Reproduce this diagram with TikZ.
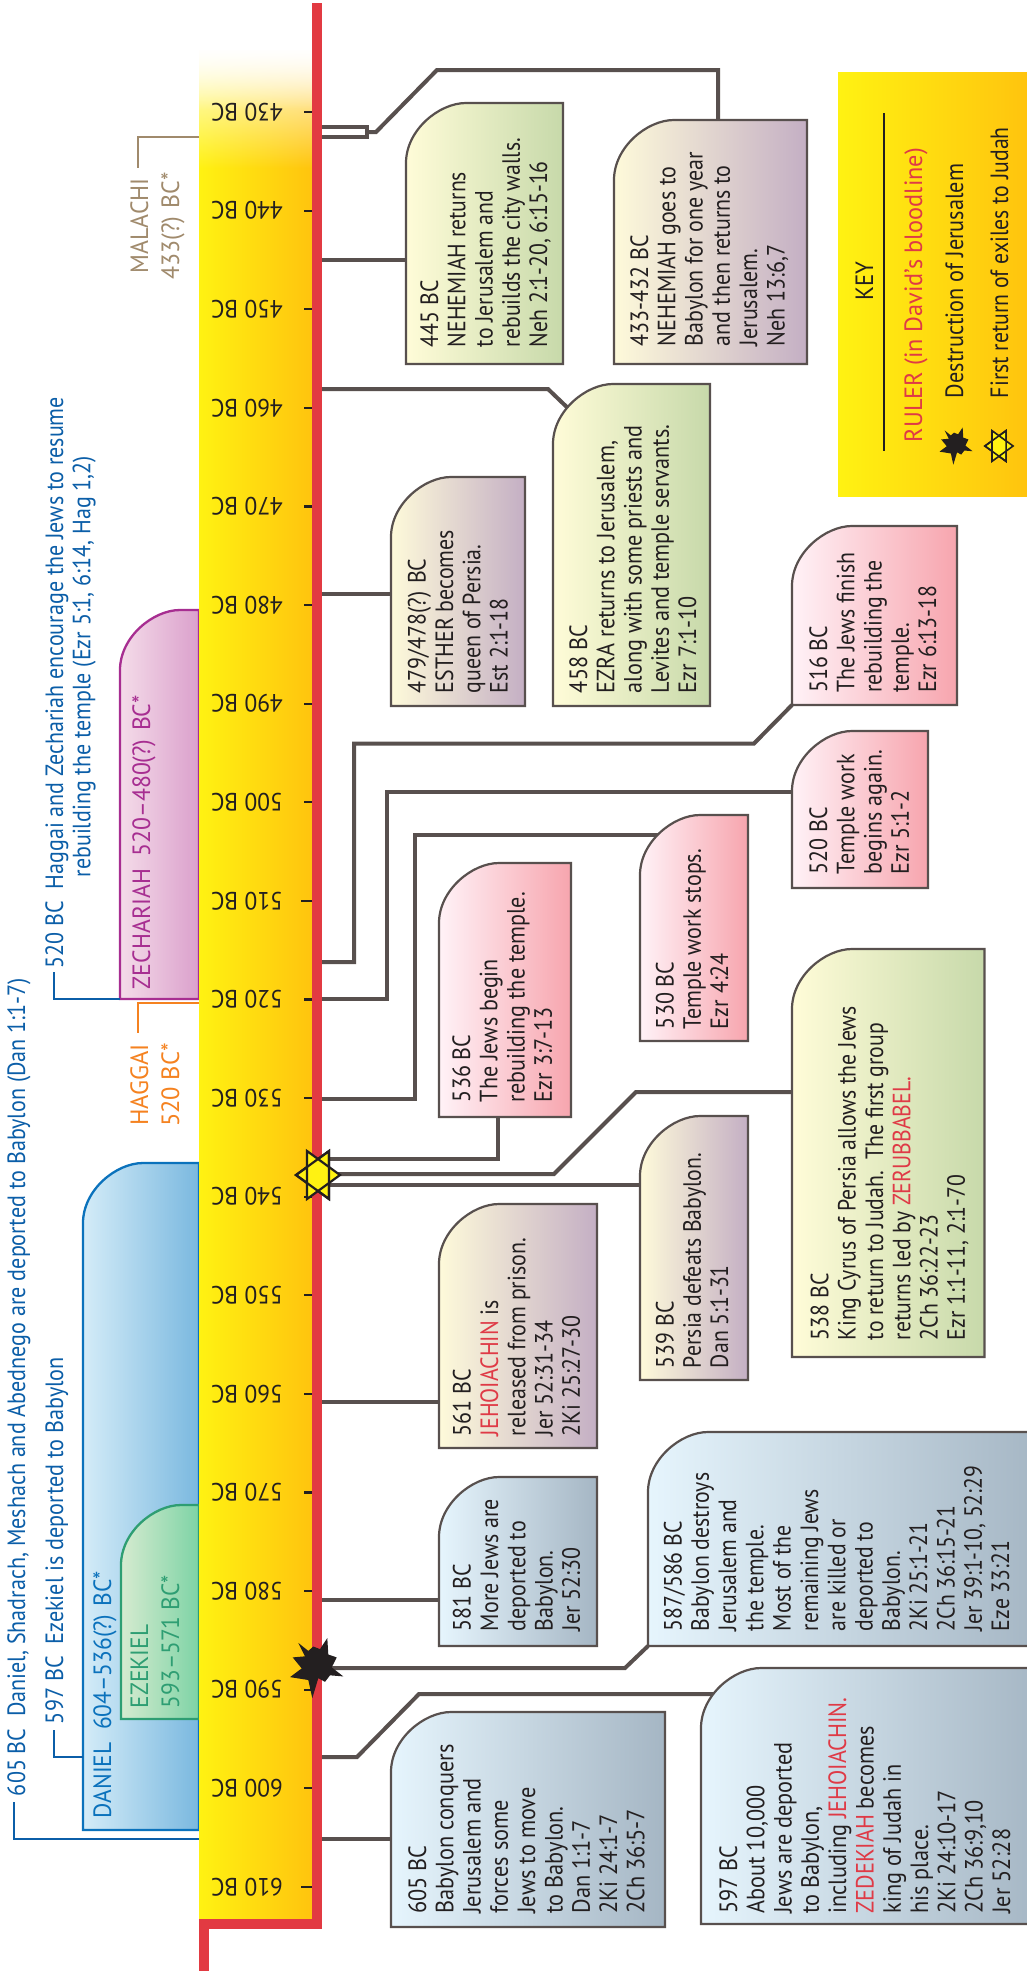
\documentclass[tikz,border=0pt]{standalone}
\usepackage{fontspec}
\setmainfont{PT Sans}
\usetikzlibrary{fadings}
\definecolor{conncol}{HTML}{58504E}
\definecolor{inkcol}{HTML}{231F20}
\definecolor{redline}{HTML}{E23A42}
\definecolor{redname}{HTML}{DF3A46}
\definecolor{yelA}{HTML}{FFF212}
\definecolor{yelB}{HTML}{FFDC05}
\definecolor{yelC}{HTML}{FFC40E}
\definecolor{bluA}{HTML}{E6F5FD}
\definecolor{bluB}{HTML}{A5B6C4}
\definecolor{tanA}{HTML}{FEFADA}
\definecolor{tanB}{HTML}{C4AFC4}
\definecolor{pnkA}{HTML}{FFF2F7}
\definecolor{pnkB}{HTML}{F7A5AE}
\definecolor{grnA}{HTML}{FFFCD8}
\definecolor{grnB}{HTML}{C7D9AA}
\definecolor{sideblue}{HTML}{0B5EA8}
\definecolor{danblue}{HTML}{0B72BC}
\definecolor{danA}{HTML}{D4ECF8}
\definecolor{danB}{HTML}{7AB8DF}
\definecolor{ezegreen}{HTML}{2E9E73}
\definecolor{ezeA}{HTML}{D6EBD0}
\definecolor{ezeB}{HTML}{7DD3A5}
\definecolor{zecpurp}{HTML}{A72E91}
\definecolor{zecA}{HTML}{F4DCE9}
\definecolor{zecB}{HTML}{DBA0CC}
\definecolor{hagorg}{HTML}{F58220}
\definecolor{maltan}{HTML}{A08A6C}
\tikzfading[name=bandfade,top color=transparent!0,bottom color=transparent!100]
\tikzset{
  conn/.style={draw=conncol,line width=4pt,miter limit=10},
  boxline/.style={draw=conncol,line width=2.2pt},
  boxnode/.style={inner sep=0pt,outer sep=0pt,anchor=north west},
  vt/.style={rotate=90,anchor=north west,inner sep=0pt,outer sep=0pt,align=left,text=inkcol,
    font=\fontsize{25}{27.3}\selectfont},
  vtc/.style={vt,anchor=north,align=center,font=\fontsize{25}{31}\selectfont},
  yr/.style={rotate=180,inner sep=0pt,text=inkcol,xscale=0.94,font=\fontsize{25}{27}\selectfont},
  tick/.style={draw=inkcol,line width=2.2pt},
  thin side/.style={line width=2pt}
}
\newcommand\rd[1]{\textcolor{redname}{#1}}
\newcommand\tlbox[7]{%
  \node[boxnode,minimum width={(#4-(#2))*1pt},minimum height={(#5-(#3))*1pt}] (#1) at (#2,#3) {};
  \shade[boxline,left color=#6,right color=#7]
    (#2,#5) -- (#2,#3+60) .. controls (#2,#3+27) and (#2+33,#3) .. (#2+60,#3) -- (#4,#3) -- (#4,#5) -- cycle;
}
\newcommand\vtxt[5][]{\node[vt,#1] (#2) at (#3-20,#4) {\rule{0pt}{20pt}#5};}
\newcommand\vctr[5][]{\node[vtc,#1] (#2) at (#3-20,#4) {\rule{0pt}{20pt}#5};}
\newcommand\yearlab[2]{%
  \node[yr] (y#1) at (247,#2) {#1 BC};
}
\newcommand\burstat[3]{%
  \fill[inkcol,shift={(#1,#2)},scale=#3]
   (-16.7,-25.1) -- (-6.7,-17.1) -- (-1.7,-21.5) -- (5,-18.9) -- (12.3,-29.9) -- (13.3,-13.5)
   -- (21.7,-10.6) -- (16.7,-0.7) -- (28.3,8.4) -- (15,7.3) -- (10,13.8) -- (3.3,10.2)
   -- (-2.7,30.2) -- (-6.7,12) -- (-25,9.1) -- (-13.3,0.4) -- (-22.3,-10.6) -- (-10,-11.7) -- cycle;
}
\newcommand\hexaat[4]{%
  \begin{scope}[shift={(#1,#2)},scale=#3]
  \filldraw[fill=yelA,draw=inkcol,line width=#4,line join=miter] (-22,0) -- (11,-24) -- (11,24) -- cycle;
  \filldraw[fill=yelA,draw=inkcol,line width=#4,line join=miter] (22,0) -- (-11,-24) -- (-11,24) -- cycle;
  \draw[draw=inkcol,line width=#4] (-22,0) -- (11,-24) -- (11,24) -- cycle;
  \end{scope}
}
\begin{document}
\begin{tikzpicture}[x=1pt,y=-1pt]
\useasboundingbox (0,0) rectangle (1027,1971);
\clip (0,0) rectangle (1027,1971);
\fill[white] (0,0) rectangle (1027,1971);

% prophet spans behind the band
\shade[draw=danblue,line width=2.3pt,left color=danA,right color=danB]
  (199,1830) -- (83,1830) -- (83,1223) .. controls (83,1190) and (116,1163) .. (143,1163) -- (199,1163) -- cycle;
\shade[draw=ezegreen,line width=2.3pt,left color=ezeA,right color=ezeB]
  (199,1719) -- (121,1719) -- (121,1565) .. controls (121,1532) and (154,1505) .. (181,1505) -- (199,1505) -- cycle;
\shade[draw=zecpurp,line width=2.3pt,left color=zecA,right color=zecB]
  (199,999) -- (120,999) -- (120,670) .. controls (120,637) and (153,610) .. (180,610) -- (199,610) -- cycle;

% band and spine
\node[inner sep=0pt,outer sep=0pt,minimum width=10pt,minimum height=1926pt,anchor=north west] (spine) at (312,3) {};
\node[inner sep=0pt,outer sep=0pt,minimum width=113pt,minimum height=1869pt,anchor=north west] (band) at (199,50) {};
\shade[left color=yelA,middle color=yelB,right color=yelC] (199,50) rectangle (312,1919);
\fill[white,path fading=bandfade] (199,42) rectangle (312,168);
\fill[white,path fading=bandfade] (199,42) rectangle (312,110);
\fill[redline] (312,3) rectangle (322,1929);
\fill[redline] (199,1919) rectangle (322,1929);
\fill[redline] (199,1919) rectangle (209,1971);

% ticks and year labels
\foreach \yy/\py in {430/112,440/210.6,450/309.2,460/407.8,470/506.4,480/605,490/703.6,500/802.2,520/999.4,530/1098,540/1196.6,550/1295.2,560/1393.8,570/1492.4,580/1591,590/1689.6,600/1788.2}{
  \draw[tick] (304,\py) -- (312,\py);
  \yearlab{\yy}{\py}
}
\draw[tick] (301,900.8) -- (312,900.8);
\yearlab{510}{900.8}
\draw[tick] (301,1887) -- (312,1887);
\yearlab{610}{1887}

% connector ends on the spine
\coordinate (s605) at (322,1839);
\coordinate (s597) at (322,1757);
\coordinate (s581) at (322,1600);
\coordinate (s561) at (322,1402);
\coordinate (s539) at (322,1185);
\coordinate (s538) at (322,1174);
\coordinate (s536) at (322,1159);
\coordinate (s530) at (322,1099);
\coordinate (s520) at (322,999);
\coordinate (s516) at (322,962);
\coordinate (s479) at (322,594);
\coordinate (s458) at (322,389);
\coordinate (s445) at (322,260);
\coordinate (sa) at (322,127);
\coordinate (sb) at (322,137);
\coordinate (burstC) at (315,1668);

% node anchors for connectors
\node[boxnode,minimum width=274pt,minimum height=215pt] (n605) at (391,1712) {};
\node[boxnode,minimum width=330pt,minimum height=256pt] (n597) at (701,1668) {};
\node[boxnode,minimum width=380pt,minimum height=214pt] (n587) at (648,1432) {};
\node[boxnode,minimum width=158pt,minimum height=169pt] (n581) at (439,1477) {};
\node[boxnode,minimum width=158pt,minimum height=244pt] (n561) at (439,1204) {};
\node[boxnode,minimum width=108pt,minimum height=264pt] (n539) at (640,1116) {};
\node[boxnode,minimum width=192.5pt,minimum height=408pt] (n538) at (792,949) {};
\node[boxnode,minimum width=132pt,minimum height=254pt] (n536) at (439,863) {};
\node[boxnode,minimum width=108pt,minimum height=226pt] (n530) at (640,815) {};
\node[boxnode,minimum width=136pt,minimum height=157pt] (n520) at (792,731) {};
\node[boxnode,minimum width=165pt,minimum height=179pt] (n516) at (792,526) {};
\node[boxnode,minimum width=157pt,minimum height=322pt] (n458) at (553,384) {};
\node[boxnode,minimum width=134pt,minimum height=229pt] (n479) at (391,477) {};
\node[boxnode,minimum width=157pt,minimum height=261pt] (n445) at (406,103) {};
\node[boxnode,minimum width=193pt,minimum height=244pt] (n433) at (614,120) {};

% connectors
\draw[conn] (s605) -- (n605.west |- s605);
\draw[conn] (s597) -- (357,1757) -- (419,1694) -- (720,1694);
\draw[conn] (burstC) -- (625,1668) -- (n587.south west);
\draw[conn] (s581) -- (n581.west |- s581);
\draw[conn] (s561) -- (n561.west |- s561);
\draw[conn] (s539) -- (n539.west |- s539);
\draw[conn] (s538) -- (554,1174) -- (636,1092) -- (n538.west |- 0,1092);
\draw[conn] (s536) -- (498,1159) -- (498,1117);
\draw[conn] (s530) -- (415,1099) -- (415,835) -- (665,835);
\draw[conn] (s520) -- (387,999) -- (387,791.5) -- (n520.west |- 0,791.5);
\draw[conn] (s516) -- (354,962) -- (354,743.5) -- (754,743.5) -- (n516.south west);
\draw[conn] (s479) -- (n479.west |- s479);
\draw[conn] (s458) -- (548,389) -- (572,412);
\draw[conn] (s445) -- (n445.west |- s445);
\draw[draw=conncol,line width=3.2pt] (sa) -- (367,127) -- (367,137) -- (sb);
\draw[conn] (367,132) -- (376,132) -- (437,70) -- (718,70) -- (718,120);

% event boxes
\tlbox{b605}{391}{1712}{665}{1927}{bluA}{bluB}
\tlbox{b597}{701}{1668}{1040}{1924}{bluA}{bluB}
\tlbox{b587}{648}{1432}{1040}{1646}{bluA}{bluB}
\tlbox{b581}{439}{1477}{597}{1646}{bluA}{bluB}
\tlbox{b561}{439}{1204}{597}{1448}{tanA}{tanB}
\tlbox{b539}{640}{1116}{748}{1380}{tanA}{tanB}
\tlbox{b538}{792}{949}{984.5}{1357}{grnA}{grnB}
\tlbox{b536}{439}{863}{571}{1117}{pnkA}{pnkB}
\tlbox{b530}{640}{815}{748}{1041}{pnkA}{pnkB}
\tlbox{b520}{792}{731}{928}{888}{pnkA}{pnkB}
\tlbox{b516}{792}{526}{957}{705}{pnkA}{pnkB}
\tlbox{b458}{553}{384}{710}{706}{grnA}{grnB}
\tlbox{b479}{391}{477}{525}{706}{tanA}{tanB}
\tlbox{b445}{406}{103}{563}{364}{grnA}{grnB}
\tlbox{b433}{614}{120}{807}{364}{tanA}{tanB}

% event texts
\vtxt[xscale=0.893]{t605}{426}{1913.5}{605 BC\\Babylon conquers\\Jerusalem and\\forces some\\Jews to move\\to Babylon.\\Dan 1:1-7\\2Ki 24:1-7\\2Ch 36:5-7}
\vtxt[xscale=0.89]{t597}{737}{1913.5}{597 BC\\About 10,000\\Jews are deported\\to Babylon,\\including \rd{JEHOIACHIN.}\\\rd{ZEDEKIAH} becomes\\king of Judah in\\his place.\\2Ki 24:10-17\\2Ch 36:9,10\\Jer 52:28}
\vtxt[xscale=0.87]{t587}{681.5}{1631}{587/586 BC\\Babylon destroys\\Jerusalem and\\the temple.\\Most of the\\remaining Jews\\are killed or\\deported to\\Babylon.\\2Ki 25:1-21\\2Ch 36:15-21\\Jer 39:1-10, 52:29\\Eze 33:21}
\vtxt[xscale=0.88]{t581}{470.7}{1631}{581 BC\\More Jews are\\deported to\\Babylon.\\Jer 52:30}
\vtxt[xscale=0.878]{t561}{470.7}{1436}{561 BC\\\rd{JEHOIACHIN} is\\released from prison.\\Jer 52:31-34\\2Ki 25:27-30}
\vtxt[xscale=0.871]{t539}{673.6}{1368}{539 BC\\Persia defeats Babylon.\\Dan 5:1-31}
\vtxt[xscale=0.87]{t538}{828.4}{1340}{538 BC\\King Cyrus of Persia allows the Jews\\to return to Judah.\ \ The first group\\returns led by \rd{ZERUBBABEL.}\\2Ch 36:22-23\\Ezr 1:1-11, 2:1-70}
\vtxt[xscale=0.883]{t536}{470}{1102}{536 BC\\The Jews begin\\rebuilding the temple.\\Ezr 3:7-13}
\vtxt[xscale=0.882]{t530}{673.6}{1029}{530 BC\\Temple work stops.\\Ezr 4:24}
\vtxt[xscale=0.88]{t520}{827}{874}{520 BC\\Temple work\\begins again.\\Ezr 5:1-2}
\vtxt[xscale=0.873]{t516}{827}{692.5}{516 BC\\The Jews finish\\rebuilding the\\temple.\\Ezr 6:13-18}
\vtxt[xscale=0.887]{t458}{587}{693}{458 BC\\EZRA returns to Jerusalem,\\along with some priests and\\Levites and temple servants.\\Ezr 7:1-10}
\vtxt[xscale=0.877]{t479}{425.7}{693}{479/478(?) BC\\ESTHER becomes\\queen of Persia.\\Est 2:1-18}
\vtxt[xscale=0.869]{t445}{438}{347}{445 BC\\NEHEMIAH returns\\to Jerusalem and\\rebuilds the city walls.\\Neh 2:1-20, 6:15-16}
\vtxt[xscale=0.879]{t433}{648}{346}{433-432 BC\\NEHEMIAH goes to\\Babylon for one year\\and then returns to\\Jerusalem.\\Neh 13:6,7}

% markers on spine
\burstat{315}{1668}{1}
\hexaat{318}{1175}{1}{2.2pt}

% side notes
\vtxt[text=sideblue,xscale=0.883]{n605a}{25}{1796}{605 BC\ \ Daniel, Shadrach, Meshach and Abednego are deported to Babylon (Dan 1:1-7)}
\draw[draw=sideblue,thin side] (band.west |- 0,1839) -- (14,1839) -- (14,1802);
\vtxt[text=sideblue,xscale=0.887]{n597a}{63}{1724}{597 BC\ \ Ezekiel is deported to Babylon}
\draw[draw=sideblue,thin side] (83,1757) -- (54,1757) -- (54,1730);
\vtxt[text=sideblue,xscale=0.88]{n520a}{63}{968}{520 BC\ \ Haggai and Zechariah encourage the Jews to resume\\\hspace*{103pt}rebuilding the temple (Ezr 5:1, 6:14, Hag 1,2)}
\draw[draw=sideblue,thin side] (120,999) -- (54,999) -- (54,972);

% prophets
\vtxt[text=danblue,xscale=0.936]{pdan}{111}{1818}{DANIEL\ \ 604–536(?) BC*}
\vtxt[text=ezegreen,xscale=0.933,font=\fontsize{25}{31}\selectfont]{peze}{148}{1708}{EZEKIEL\\593–571 BC*}
\vtxt[text=zecpurp,xscale=0.95]{pzec}{150}{989}{ZECHARIAH\ \ 520–480(?) BC*}
\vctr[text=hagorg,xscale=0.98]{phag}{148}{1085}{HAGGAI\\520 BC*}
\draw[draw=hagorg,thin side] (band.west |- 0,1003) -- (138,1003) -- (138,1033);
\vctr[text=maltan,xscale=0.955]{pmal}{148}{226}{MALACHI\\433(?) BC*}
\draw[draw=maltan,thin side] (band.west |- 0,137) -- (138,137) -- (138,168);

% key
\node[inner sep=0pt,outer sep=0pt,minimum width=189pt,minimum height=424pt,anchor=north west] (keybox) at (838,72) {};
\shade[left color=yelA,middle color=yelB,right color=yelC] (838,72) rectangle (1027,496);
\coordinate (keyA) at (884,113);
\coordinate (keyB) at (884,451);
\draw[draw=inkcol,line width=2pt] (keyA) -- (keyB);
\vctr[xscale=0.915]{kttl}{873}{281}{KEY}
\vtxt[text=redname,xscale=0.97]{kr}{922}{442}{RULER (in David's bloodline)}
\vtxt[xscale=0.89]{kd}{963}{398}{Destruction of Jerusalem}
\vtxt[xscale=0.871]{kf}{1008}{398}{First return of exiles to Judah}
\burstat{955}{446}{0.62}
\hexaat{999}{446}{0.64}{1.6pt}
\end{tikzpicture}
\end{document}
